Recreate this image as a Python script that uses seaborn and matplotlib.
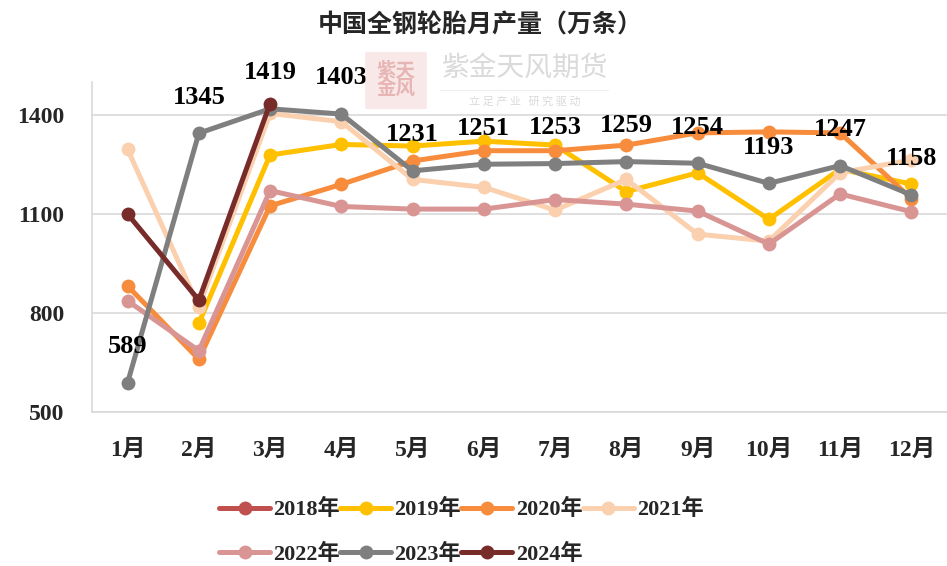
import numpy as np
import pandas as pd
import matplotlib
matplotlib.use("Agg")
import matplotlib.pyplot as plt
import seaborn as sns
from matplotlib.patches import FancyBboxPatch

months = ["1月", "2月", "3月", "4月", "5月", "6月", "7月", "8月", "9月", "10月", "11月", "12月"]
years = ["2018年", "2019年", "2020年", "2021年", "2022年", "2023年", "2024年"]

v2018 = [np.nan] * 12
v2019 = [np.nan, 769, 1279, 1311, 1306, 1321, 1309, 1168, 1225, 1084, 1236, 1191]
v2020 = [882, 660, 1125, 1190, 1261, 1292, 1292, 1309, 1346, 1349, 1346, 1147]
v2021 = [1296, 819, 1405, 1380, 1205, 1181, 1112, 1205, 1039, 1018, 1225, 1264]
v2022 = [837, 686, 1171, 1123, 1115, 1115, 1144, 1130, 1109, 1009, 1161, 1107]
v2023 = [589, 1345, 1419, 1403, 1231, 1251, 1253, 1259, 1254, 1193, 1247, 1158]
v2024 = [1100, 839, 1435] + [np.nan] * 9

colors = ["#C0504D", "#FFC000", "#F78D3C", "#FBD0AE", "#D99594", "#7F7F7F", "#772C2A"]

sns.set_theme(style="white")
plt.rcParams["font.family"] = ["Liberation Serif", "Noto Sans CJK SC"]
plt.rcParams["font.weight"] = "bold"

fig = plt.figure(figsize=(9.47, 5.66), dpi=100)
ax = fig.add_axes([0.0971, 0.272, 0.9029, 0.583])

x = np.arange(len(months))
series = [v2018, v2019, v2020, v2021, v2022, v2023, v2024]
for name, vals, c in zip(years, series, colors):
    df = pd.DataFrame({"x": x, "v": vals})
    sns.lineplot(data=df, x="x", y="v", ax=ax, color=c, linewidth=3.6,
                 marker="o", markersize=10, markeredgewidth=0, label=name)

# data labels for 2023
for xi, v in zip(x, v2023):
    ax.annotate(f"{v}", (xi, v), xytext=(0, 26), textcoords="offset points",
                ha="center", va="center", fontsize=19, fontweight="bold", color="black")

ax.set_xlim(-0.5, 11.5)
ax.set_ylim(500, 1500)
ax.set_yticks([500, 800, 1100, 1400])
ax.set_xticks(x)
ax.set_xticklabels(months)
ax.set_xlabel("")
ax.set_ylabel("")
ax.tick_params(axis="both", labelsize=17, length=0)
ax.tick_params(axis="x", pad=20)
ax.tick_params(axis="y", pad=20)
for lab in ax.get_xticklabels() + ax.get_yticklabels():
    lab.set_fontweight("bold")
ax.grid(axis="y", color="#D9D9D9", linewidth=1.2)
for s in ["top", "right"]:
    ax.spines[s].set_visible(False)
ax.spines["left"].set_color("#D9D9D9")
ax.spines["bottom"].set_color("#D9D9D9")
ax.spines["left"].set_linewidth(1.2)
ax.spines["bottom"].set_linewidth(1.2)

# row-major legend order
handles, labels = ax.get_legend_handles_labels()
order = [0, 4, 1, 5, 2, 6, 3]
ax.legend([handles[i] for i in order], [labels[i] for i in order],
          loc="upper center", bbox_to_anchor=(0.432, -0.204), ncol=4, frameon=False,
          prop={"size": 16, "weight": "bold"}, handlelength=2.3, handletextpad=0.15,
          columnspacing=0.0, labelspacing=1.05)

fig.text(0.507, 0.955, "中国全钢轮胎月产量（万条）", ha="center", va="center",
         fontsize=18, fontweight="bold", family=["Noto Sans CJK SC"])

# watermark
logo = FancyBboxPatch((367 / 947, 1 - 108 / 566), 58 / 947, 55 / 566,
                      boxstyle="round,pad=0.002", transform=fig.transFigure,
                      facecolor="#F5DADA", edgecolor="none", alpha=0.6, zorder=0)
fig.patches.append(logo)
fig.text(396 / 947, 1 - 80 / 566, "紫天\n金风", ha="center", va="center", fontsize=14,
         color="#E8B5B5", family=["Noto Sans CJK SC"], linespacing=0.9)
fig.text(525 / 947, 1 - 68 / 566, "紫金天风期货", ha="center", va="center", fontsize=20,
         color="#DADADA", fontweight="normal", family=["Noto Sans CJK SC"])
fig.text(525 / 947, 1 - 102 / 566, "立 足 产 业   研 究 驱 动", ha="center", va="center",
         fontsize=8, color="#DADADA", fontweight="normal", family=["Noto Sans CJK SC"])
fig.add_artist(plt.Line2D([440 / 947, 608 / 947], [1 - 90 / 566, 1 - 90 / 566],
                          transform=fig.transFigure, color="#EEEEEE", linewidth=0.8))

fig.savefig("out.png", dpi=100)
